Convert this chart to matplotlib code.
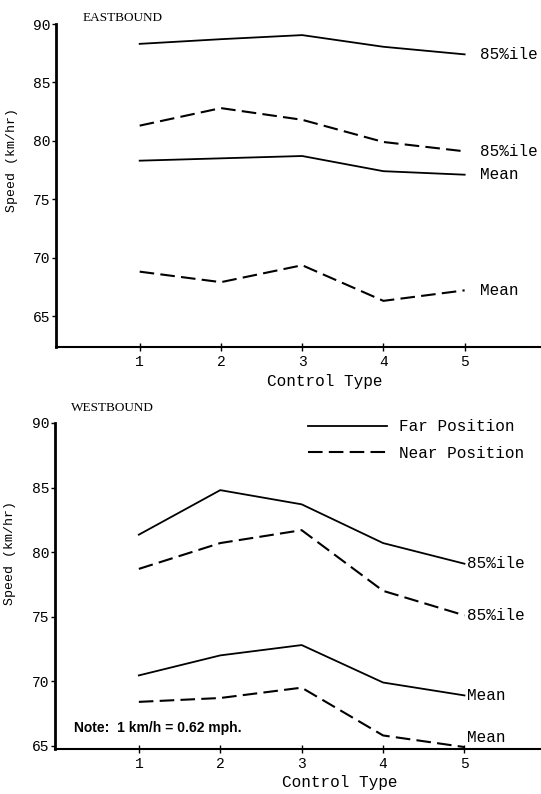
import matplotlib
matplotlib.use("Agg")
import matplotlib.pyplot as plt

control_types = [1, 2, 3, 4, 5]
speed_ticks = [65, 70, 75, 80, 85, 90]

# eastbound speeds (km/hr)
east_far_85 = [88.3, 88.7, 89.05, 88.05, 87.4]
east_near_85 = [81.3, 82.8, 81.8, 79.9, 79.1]
east_far_mean = [78.3, 78.5, 78.7, 77.4, 77.1]
east_near_mean = [68.8, 67.9, 69.35, 66.3, 67.2]

# westbound speeds (km/hr)
west_far_85 = [81.35, 84.8, 83.7, 80.7, 79.1]
west_near_85 = [78.7, 80.7, 81.7, 77.0, 75.1]
west_far_mean = [70.45, 72.0, 72.8, 69.9, 68.9]
west_near_mean = [68.4, 68.7, 69.5, 65.8, 64.9]

MONO = "Liberation Mono"
DASH = (0, (7, 3))


def draw_panel(ax, far85, near85, farmean, nearmean, ylo, title, title_xy, label_dx, mean_dy):
    far_line, = ax.plot(control_types, far85, color="black", lw=1.3)
    near_line, = ax.plot(control_types, near85, color="black", lw=1.5, linestyle=DASH)
    ax.plot(control_types, farmean, color="black", lw=1.3)
    ax.plot(control_types, nearmean, color="black", lw=1.5, linestyle=DASH)

    # labels at the end of each line
    for vals, txt, dy in [(far85, "85%ile", 0), (near85, "85%ile", 0),
                          (farmean, "Mean", 0), (nearmean, "Mean", mean_dy)]:
        ax.annotate(txt, (control_types[-1], vals[-1]), xytext=(label_dx, dy),
                    textcoords="offset points", va="center", ha="left",
                    fontsize=11.5, family=MONO)

    ax.set_xlim(-0.03, 5.94)
    ax.set_ylim(ylo, 90)
    ax.set_xticks(control_types)
    ax.set_yticks(speed_ticks)
    ax.tick_params(axis="y", direction="out", length=3, width=1, pad=1, labelsize=10.5)
    ax.tick_params(axis="x", direction="inout", length=6, width=1, pad=3, labelsize=10.5)
    for lab in ax.get_xticklabels() + ax.get_yticklabels():
        lab.set_family(MONO)

    ax.spines["top"].set_visible(False)
    ax.spines["right"].set_visible(False)
    ax.spines["left"].set_linewidth(2)
    ax.spines["bottom"].set_linewidth(1.5)

    ax.set_xlabel("Control Type", fontsize=11.5, family=MONO)
    ax.set_ylabel("Speed (km/hr)", fontsize=9.5, family=MONO)
    ax.text(title_xy[0], title_xy[1], title, transform=ax.transAxes, fontsize=9.5,
            family="Liberation Serif", va="center", ha="left")
    return far_line, near_line


fig = plt.figure(figsize=(5.41, 7.94), dpi=100)
ax_top = fig.add_axes([56 / 541, 1 - 347 / 794, 485 / 541, 323 / 794])
ax_bot = fig.add_axes([55 / 541, 1 - 749 / 794, 486 / 541, 326 / 794])

draw_panel(ax_top, east_far_85, east_near_85, east_far_mean, east_near_mean,
           62.35, "EASTBOUND", (0.055, 1.02), 11, 0)
ax_top.yaxis.set_label_coords(-0.078, 0.58)
ax_top.xaxis.set_label_coords(0.555, -0.085)

far_h, near_h = draw_panel(ax_bot, west_far_85, west_near_85, west_far_mean,
                           west_near_mean, 64.75, "WESTBOUND", (0.033, 1.045), 2, 7)
ax_bot.yaxis.set_label_coords(-0.08, 0.6)
ax_bot.xaxis.set_label_coords(0.585, -0.081)

ax_bot.legend([far_h, near_h], ["Far Position", "Near Position"],
              loc="upper left", bbox_to_anchor=(0.49, 1.055), frameon=False,
              handlelength=5.0, handletextpad=0.7, labelspacing=0.7,
              prop={"family": MONO, "size": 11.5})

ax_bot.text(0.04, 0.065, "Note:  1 km/h = 0.62 mph.", transform=ax_bot.transAxes,
            fontsize=10, family="Liberation Sans", weight="bold", va="center")

plt.savefig("out.png", dpi=100)
